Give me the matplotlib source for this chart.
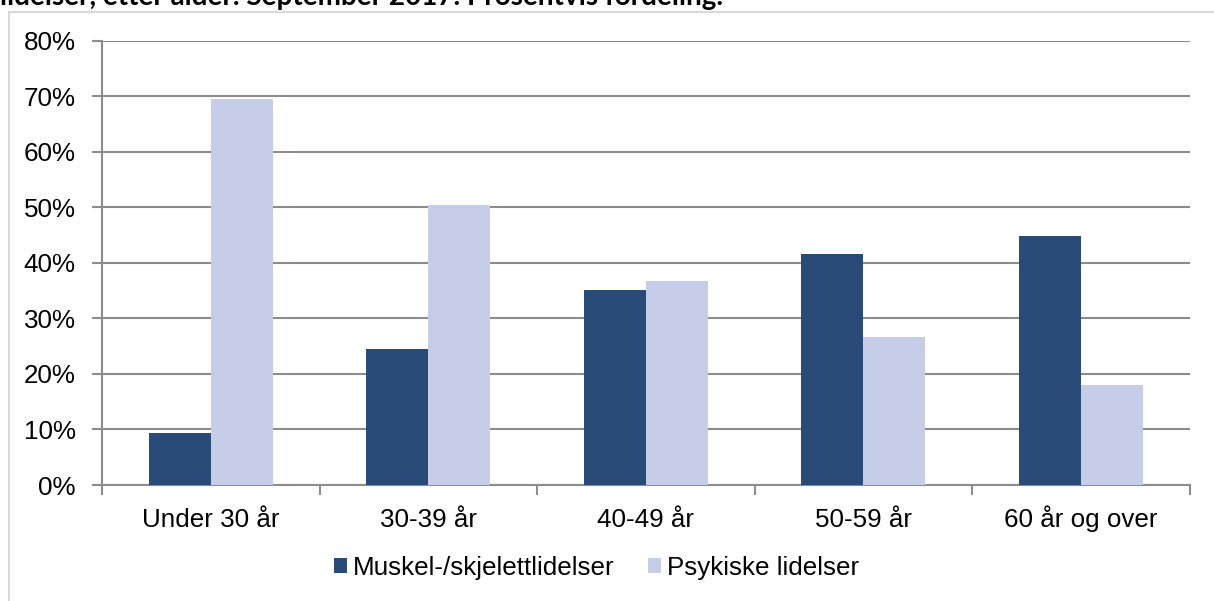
import matplotlib.pyplot as plt
import numpy as np
from matplotlib.patches import Rectangle

plt.rcParams['font.family'] = ['Liberation Sans', 'DejaVu Sans']

# Data
categories = ['Under 30 år', '30-39 år', '40-49 år', '50-59 år', '60 år og over']
muskel = [9.3, 24.5, 35.1, 41.6, 44.8]
psykisk = [69.6, 50.4, 36.8, 26.6, 18.0]
series_names = ['Muskel-/skjelettlidelser', 'Psykiske lidelser']
title = 'lidelser, etter alder. September 2017. Prosentvis fordeling.'

dark = '#2A4A78'
light = '#C5CDE8'
grey = '#8C8C8C'
fs = 18.7

fig = plt.figure(figsize=(12.14, 6.01), dpi=100)
ax = fig.add_axes([0.084, 0.193, 0.896, 0.739])

# outer frame of the chart object
fig.patches.append(Rectangle((8.5 / 1214, -0.01), 1.02, 1 - 11.5 / 601 + 0.01,
                             transform=fig.transFigure, fill=False,
                             edgecolor='#D9D9D9', linewidth=1.5))

# cut-off title line at top, fit to its width in the reference
t = fig.text(0.0, 1 - 5 / 601, title, fontsize=18, fontweight='bold',
             family=['Lato', 'DejaVu Sans'], va='baseline', ha='left')
renderer = fig.canvas.get_renderer()
wpx = t.get_window_extent(renderer).width
t.set_fontsize(18 * 722 / wpx)

x = np.arange(len(categories))
w = 0.285
ax.bar(x - w / 2, muskel, w, color=dark, label=series_names[0], zorder=3)
ax.bar(x + w / 2, psykisk, w, color=light, label=series_names[1], zorder=3)

ax.set_xlim(-0.5, len(categories) - 0.5)
ax.set_ylim(0, 80)
ax.set_yticks(range(0, 81, 10))
ax.set_yticklabels([f'{v}%' for v in range(0, 81, 10)], fontsize=fs)
ax.yaxis.grid(True, color=grey, linewidth=1.5, zorder=0)

ax.set_xticks(x)
ax.set_xticklabels(categories, fontsize=fs, va='baseline')
ax.set_xticks(np.arange(-0.5, len(categories)), minor=True)
ax.tick_params(axis='x', which='major', length=0, pad=30)
ax.tick_params(axis='x', which='minor', length=7, width=1.5, color=grey)
ax.tick_params(axis='y', length=7, width=1.5, color=grey, pad=12)

for side in ['top', 'right']:
    ax.spines[side].set_visible(False)
for side in ['left', 'bottom']:
    ax.spines[side].set_color(grey)
    ax.spines[side].set_linewidth(1.5)

ax.legend(loc='center', bbox_to_anchor=(0.4545, -0.187), ncol=2,
          frameon=False, fontsize=fs, handlelength=0.5, handleheight=0.5,
          handletextpad=0.23, columnspacing=1.3, borderaxespad=0, borderpad=0)

plt.savefig('out.png', dpi=100)
